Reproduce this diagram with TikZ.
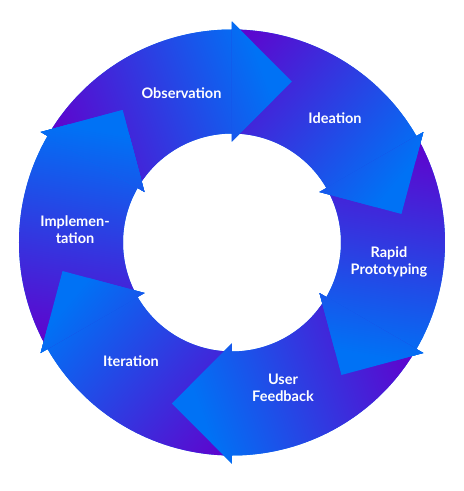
\documentclass[tikz,border=0pt]{standalone}
\usepackage{fontspec}
\setmainfont{Lato}
\definecolor{segpurple}{HTML}{6200CC}
\definecolor{segblue}{HTML}{0072F5}
\tikzset{
  % one ring segment with its arrow head, head base on the 90 degree ray
  bodypath/.style={insert path={(150:213) arc[start angle=150,end angle=90,radius=213]
      -- (0,221) -- (60,161) -- (0,101) -- (0,109)
      arc[start angle=90,end angle=150,radius=109] -- cycle}},
  headpath/.style={insert path={(0,221) -- (60,161) -- (0,101) -- cycle}},
  steplabel/.style={text=white, font=\bfseries\fontsize{14.5}{17}\selectfont, align=center}
}
% fill a region (given as a path style) with the purple-to-blue gradient,
% rotated by #1 degrees about the ring centre
\newcommand\gradfill[2]{%
  \begin{scope}[transform canvas={rotate=#1}]
    \begin{scope}
      \clip[#2];
      \fill[segblue] (-260,-260) rectangle (260,260);
      \begin{scope}[transform canvas={rotate=20}]
        \shade[left color=segpurple, right color=segblue] (-137,-260) rectangle (88,260);
      \end{scope}
    \end{scope}
  \end{scope}}
\begin{document}
\begin{tikzpicture}[x=1pt,y=1pt]
  \fill[white] (-232,-248.5) rectangle (232,242.5);
  \useasboundingbox (-232,-248.5) rectangle (232,242.5);
  % ring segments, then the heads again so each lies over the next tail
  \foreach \k in {0,...,5} {\gradfill{-60*\k}{bodypath}}
  \foreach \k in {0,...,5} {\gradfill{-60*\k}{headpath}}
  % step labels
  \node[steplabel] (obs)  at (-50.5,149)  {Observation};
  \node[steplabel] (idea) at (103,124)    {Ideation};
  \node[steplabel] (rapid) at (157,-19.5) {Rapid\\Prototyping};
  \node[steplabel] (user) at (51,-145.5)  {User\\Feedback};
  \node[steplabel] (iter) at (-101,-119)  {Iteration};
  \node[steplabel] (impl) at (-157,13)    {Implemen-\\tation};
\end{tikzpicture}
\end{document}
